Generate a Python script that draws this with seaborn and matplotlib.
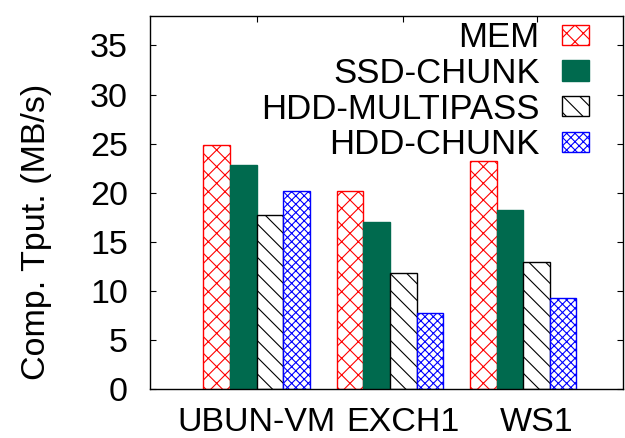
import matplotlib
matplotlib.use("Agg")
import matplotlib.pyplot as plt
import seaborn as sns
import pandas as pd
from matplotlib.patches import Patch

# Compression throughput per trace and storage strategy
traces = ["UBUN-VM", "EXCH1", "WS1"]
series = ["MEM", "SSD-CHUNK", "HDD-MULTIPASS", "HDD-CHUNK"]
mem = [24.9, 20.2, 23.2]
ssd_chunk = [22.8, 17.0, 18.2]
hdd_multipass = [17.7, 11.8, 12.9]
hdd_chunk = [20.2, 7.7, 9.3]
y_ticks = [0, 5, 10, 15, 20, 25, 30, 35]

values = {"MEM": mem, "SSD-CHUNK": ssd_chunk,
          "HDD-MULTIPASS": hdd_multipass, "HDD-CHUNK": hdd_chunk}
df = pd.DataFrame([
    {"trace": t, "series": s, "tput": values[s][i]}
    for s in series for i, t in enumerate(traces)
])

# fill, edge colour and hatch per series
styles = {
    "MEM": dict(face="white", edge="#ff0000", hatch="xx"),
    "SSD-CHUNK": dict(face="#006a4e", edge="#006a4e", hatch=""),
    "HDD-MULTIPASS": dict(face="white", edge="black", hatch="\\\\"),
    "HDD-CHUNK": dict(face="white", edge="#0000ff", hatch="xxxx"),
}

sns.set_theme(style="white")
plt.rcParams["font.family"] = ["Liberation Sans", "DejaVu Sans"]
plt.rcParams["hatch.linewidth"] = 0.8
plt.rcParams["text.color"] = "black"
plt.rcParams["axes.labelcolor"] = "black"

fig = plt.figure(figsize=(6.25, 4.38), dpi=100)
ax = fig.add_axes([0.24, 0.1119, 0.7568, 0.8516])

sns.barplot(data=df, x="trace", y="tput", hue="series", order=traces,
            hue_order=series, ax=ax, legend=False, saturation=1,
            width=0.8, gap=0)

for cont, s in zip(ax.containers, series):
    st = styles[s]
    for bar in cont:
        bar.set_facecolor(st["face"])
        bar.set_edgecolor(st["edge"])
        bar.set_hatch(st["hatch"])
        bar.set_linewidth(1.0)

FS = 24.5
ax.set_xlim(-0.8, 2.749)
ax.set_ylim(0, 38)
ax.set_yticks(y_ticks)
ax.set_yticklabels([str(v) for v in y_ticks], fontsize=FS)
ax.set_xticks([0, 1.1, 2.1])
ax.set_xticklabels(traces, fontsize=FS)
ax.set_xlabel("")
ax.set_ylabel("Comp. Tput. (MB/s)", fontsize=FS)
ax.yaxis.set_label_coords(-0.208, 0.42)

for sp in ax.spines.values():
    sp.set_visible(True)
    sp.set_color("black")
    sp.set_linewidth(1.0)

ax.tick_params(axis="y", direction="in", length=4, width=0.8, left=True,
               right=True, pad=16, colors="black")
ax.tick_params(axis="x", direction="in", length=4, width=0.8, bottom=True,
               top=True, pad=13, colors="black")

handles = [Patch(facecolor=styles[s]["face"], edgecolor=styles[s]["edge"],
                 hatch=styles[s]["hatch"], linewidth=1.0) for s in series]
ax.legend(handles, series, loc="upper right", markerfirst=False,
          frameon=False, fontsize=25, handlelength=0.78, handleheight=0.52,
          handletextpad=0.64, labelspacing=0.08, borderpad=0,
          borderaxespad=0, bbox_to_anchor=(589 / 625, 1 - 21 / 438),
          bbox_transform=fig.transFigure)

fig.savefig("out.png", dpi=100)
